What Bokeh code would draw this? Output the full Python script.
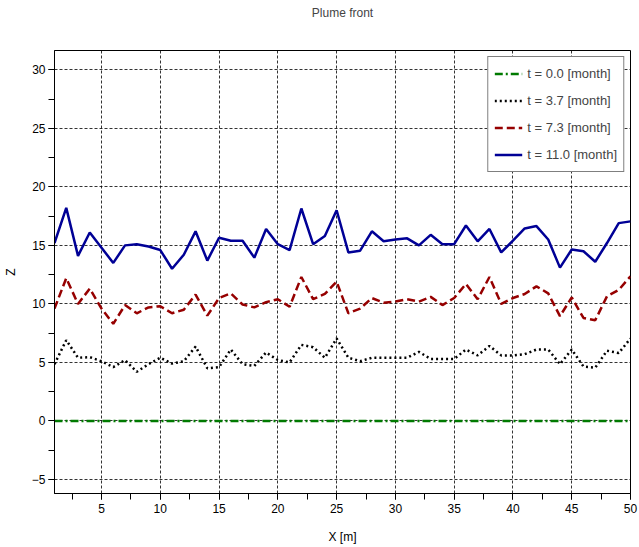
from bokeh.plotting import figure
from bokeh.models import Range1d, SingleIntervalTicker, Legend, LegendItem, Title
from bokeh.embed import file_html
from bokeh.resources import INLINE

x_m = list(range(1, 51))
z_t00 = [0.0] * 50
z_t37 = [4.85, 6.9, 5.4, 5.45, 5.1, 4.6, 5.2, 4.2, 4.85, 5.4,
         4.9, 5.1, 6.35, 4.5, 4.6, 6.1, 4.85, 4.7, 5.85, 5.2,
         5.0, 6.5, 6.3, 5.4, 7.05, 5.4, 5.1, 5.4, 5.4, 5.4,
         5.4, 5.9, 5.3, 5.3, 5.3, 6.1, 5.6, 6.4, 5.6, 5.6,
         5.7, 6.1, 6.1, 4.85, 6.1, 4.65, 4.55, 6.0, 5.8, 7.05]
z_t73 = [9.6, 12.2, 10.0, 11.3, 9.6, 8.3, 9.9, 9.2, 9.7, 9.8,
         9.2, 9.5, 10.8, 9.0, 10.5, 10.9, 9.95, 9.7, 10.15, 10.4,
         9.75, 12.3, 10.4, 10.85, 11.9, 9.2, 9.6, 10.5, 10.1, 10.2,
         10.4, 10.2, 10.6, 9.9, 10.5, 11.7, 10.4, 12.3, 10.0, 10.5,
         10.85, 11.5, 10.9, 8.95, 10.55, 8.8, 8.6, 10.65, 11.2, 12.35]
z_t110 = [15.2, 18.2, 14.1, 16.1, 14.8, 13.5, 15.0, 15.1, 14.9, 14.6,
          13.0, 14.2, 16.2, 13.7, 15.65, 15.4, 15.4, 13.95, 16.4, 15.1,
          14.6, 18.15, 15.1, 15.8, 18.0, 14.4, 14.55, 16.2, 15.35, 15.5,
          15.6, 15.0, 15.9, 15.1, 15.1, 16.7, 15.35, 16.4, 14.4, 15.4,
          16.45, 16.65, 15.5, 13.1, 14.65, 14.5, 13.6, 15.2, 16.9, 17.05]
labels = ["t = 0.0 [month]", "t = 3.7 [month]", "t = 7.3 [month]", "t = 11.0 [month]"]
title_text = "Plume front"

FONT = "Liberation Sans"

p = figure(width=639, height=547, output_backend="svg", toolbar_location=None,
           x_range=Range1d(1, 50), y_range=Range1d(-6.2, 31.65),
           min_border_left=54, min_border_right=9, min_border_top=50, min_border_bottom=54)
p.background_fill_color = "white"
p.border_fill_color = "white"
p.outline_line_color = "black"
p.outline_line_width = 1

p.title.text = title_text
p.title.align = "center"
p.title.vertical_align = "top"
p.title.text_font = FONT
p.title.text_font_size = "12px"
p.title.text_font_style = "normal"
p.title.standoff = 0
# empty spacer panel between the title and the frame
p.add_layout(Title(text=" ", standoff=13, text_font=FONT, text_font_size="12px"), "above")

for ax in (p.xaxis[0], p.yaxis[0]):
    ax.axis_line_color = "black"
    ax.major_tick_in = 0
    ax.major_tick_out = 6
    ax.minor_tick_in = 0
    ax.minor_tick_out = 6
    ax.major_tick_line_color = "black"
    ax.minor_tick_line_color = "black"
    ax.major_label_text_font = FONT
    ax.major_label_text_font_size = "12px"
    ax.major_label_text_color = "black"
    ax.axis_label_text_font = FONT
    ax.axis_label_text_font_size = "12px"
    ax.axis_label_text_font_style = "normal"
    ax.axis_label_text_color = "black"

p.xaxis[0].ticker = SingleIntervalTicker(interval=5, num_minor_ticks=2)
p.yaxis[0].ticker = SingleIntervalTicker(interval=5, num_minor_ticks=2)
p.yaxis[0].major_label_overrides = {-5: "\u22125"}
p.xaxis[0].axis_label = "X [m]"
p.yaxis[0].axis_label = "Z"
p.xaxis[0].major_label_standoff = 4
p.yaxis[0].major_label_standoff = 3
p.xaxis[0].axis_label_standoff = 14
p.yaxis[0].axis_label_standoff = 11

for g in (p.xgrid[0], p.ygrid[0]):
    g.grid_line_color = "black"
    g.grid_line_alpha = 0.8
    g.grid_line_dash = "3 2"
    g.grid_line_width = 1

r0 = p.line(x_m, z_t00, line_color="#007A00", line_width=2.5, line_dash="8 3 2 3")
r1 = p.line(x_m, z_t37, line_color="black", line_width=2.5, line_dash="2 3")
r2 = p.line(x_m, z_t73, line_color="#960000", line_width=2.5, line_dash="8 4")
r3 = p.line(x_m, z_t110, line_color="#000096", line_width=2.5)

legend = Legend(items=[LegendItem(label=labels[0], renderers=[r0]),
                       LegendItem(label=labels[1], renderers=[r1]),
                       LegendItem(label=labels[2], renderers=[r2]),
                       LegendItem(label=labels[3], renderers=[r3])],
                location="top_right", margin=6, padding=6, spacing=6,
                label_height=21, glyph_height=21, glyph_width=28, label_standoff=5,
                label_text_font=FONT, label_text_font_size="13px",
                border_line_color="black", border_line_width=1,
                background_fill_color="white", background_fill_alpha=1)
p.add_layout(legend)

open("out.html", "w").write(file_html(p, INLINE))
